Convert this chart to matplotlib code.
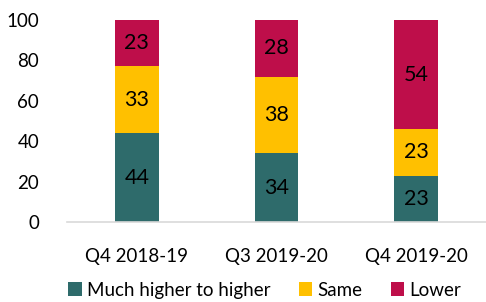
import numpy as np
import matplotlib.pyplot as plt

categories = ["Q4 2018-19", "Q3 2019-20", "Q4 2019-20"]
higher = [44, 34, 23]
same = [33, 38, 23]
lower = [23, 28, 54]
series_names = ["Much higher to higher", "Same", "Lower"]
colors = ["#2E6B6B", "#FFC000", "#BE0E4A"]

plt.rcParams['font.family'] = ['Lato', 'DejaVu Sans']

fig = plt.figure(figsize=(4.86, 3.02), dpi=100)
ax = fig.add_axes([67 / 486, 1 - 222 / 302, 419 / 486, 202 / 302])

x = np.arange(len(categories))
bottom = np.zeros(len(categories))
for vals, name, col in zip([higher, same, lower], series_names, colors):
    ax.bar(x, vals, width=0.315, bottom=bottom, color=col, label=name)
    for xi, b, v in zip(x, bottom, vals):
        ax.text(xi, b + v / 2, str(v), ha='center', va='center', fontsize=15.5, color='black')
    bottom += np.array(vals)

ax.set_xlim(-0.5, 2.5)
ax.set_ylim(0, 100)
ax.set_yticks(range(0, 101, 20))
ax.set_xticks(x)
ax.set_xticklabels(categories)
ax.tick_params(axis='both', length=0, labelsize=13.5)
ax.tick_params(axis='x', pad=19)
ax.tick_params(axis='y', pad=20)
for s in ['top', 'right', 'left']:
    ax.spines[s].set_visible(False)
ax.spines['bottom'].set_color('#D9D9D9')
ax.spines['bottom'].set_linewidth(1.2)

ax.legend(loc='center', bbox_to_anchor=(0.472, -0.337), ncol=3, frameon=False,
          fontsize=13.5, handlelength=0.7, handleheight=0.7, handletextpad=0.3,
          columnspacing=1.5, borderpad=0)

fig.savefig("out.png", dpi=100)
